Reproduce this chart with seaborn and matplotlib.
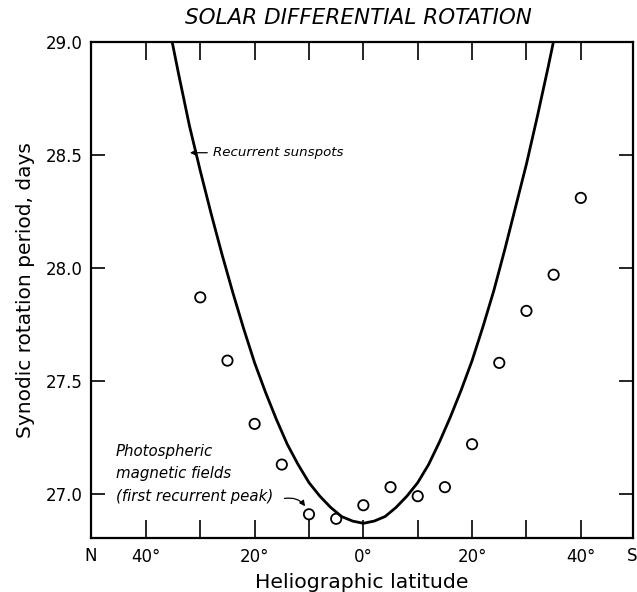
import matplotlib
matplotlib.use("Agg")
import matplotlib.pyplot as plt
import seaborn as sns
import pandas as pd

# Recurrent sunspots curve
curve_lat = [-36, -34, -32, -30, -28, -26, -24, -22, -20, -18, -16, -14, -12, -10, -8, -6, -4, -2,
             0, 2, 4, 6, 8, 10, 12, 14, 16, 18, 20, 22, 24, 26, 28, 30, 32, 34, 36]
curve_period = [29.10, 28.86, 28.63, 28.43, 28.24, 28.06, 27.89, 27.73, 27.58, 27.45, 27.33, 27.22,
                27.13, 27.05, 26.99, 26.94, 26.90, 26.88,
                26.87, 26.88, 26.90, 26.94, 26.99, 27.05, 27.13, 27.23, 27.34, 27.46, 27.59, 27.74,
                27.90, 28.08, 28.27, 28.46, 28.67, 28.89, 29.12]

# Photospheric magnetic fields (first recurrent peak)
mag_lat = [-30, -25, -20, -15, -10, -5, 0, 5, 10, 15, 20, 25, 30, 35, 40]
mag_period = [27.87, 27.59, 27.31, 27.13, 26.91, 26.89, 26.95, 27.03, 26.99, 27.03, 27.22, 27.58,
              27.81, 27.97, 28.31]

x_ticks = [-40, -30, -20, -10, 0, 10, 20, 30, 40]
x_tick_labels = ["40°", "", "20°", "", "0°", "", "20°", "", "40°"]
y_ticks = [27.0, 27.5, 28.0, 28.5, 29.0]
y_tick_labels = ["27.0", "27.5", "28.0", "28.5", "29.0"]

sns.set_style("ticks")
plt.rcParams["font.family"] = ["DejaVu Sans"]
plt.rcParams["text.color"] = "black"
plt.rcParams["axes.labelcolor"] = "black"
plt.rcParams["xtick.color"] = "black"
plt.rcParams["ytick.color"] = "black"

fig = plt.figure(figsize=(6.37, 5.92), dpi=100)
ax = fig.add_axes([91 / 637, 1 - 538 / 592, (633 - 91) / 637, (538 - 42) / 592])

curve_df = pd.DataFrame({"lat": curve_lat, "period": curve_period})
mag_df = pd.DataFrame({"lat": mag_lat, "period": mag_period})

sns.lineplot(data=curve_df, x="lat", y="period", ax=ax, color="black", linewidth=2.0,
             sort=True, estimator=None)
sns.scatterplot(data=mag_df, x="lat", y="period", ax=ax, marker="o", s=55,
                facecolor="none", edgecolor="black", linewidth=1.3)

ax.set_xlim(-50.1, 49.6)
ax.set_ylim(26.805, 29.0)

ax.set_xticks(x_ticks)
ax.set_xticklabels(x_tick_labels, fontsize=12)
ax.set_yticks(y_ticks)
ax.set_yticklabels(y_tick_labels, fontsize=12)
ax.tick_params(axis="x", direction="in", length=13, width=1.2, top=True, bottom=True, pad=7,
               colors="black")
ax.tick_params(axis="y", direction="in", length=10, width=1.2, left=True, right=True, pad=6,
               colors="black")

for sp in ax.spines.values():
    sp.set_visible(True)
    sp.set_linewidth(1.6)
    sp.set_color("black")

ax.text(0.0, -0.018, "N", transform=ax.transAxes, ha="center", va="top", fontsize=12)
ax.text(0.998, -0.018, "S", transform=ax.transAxes, ha="center", va="top", fontsize=12)

ax.set_xlabel("Heliographic latitude", fontsize=14.7, labelpad=5)
ax.set_ylabel("Synodic rotation period, days", fontsize=14.5, labelpad=8)
fig.text(0.562, 0.969, "SOLAR DIFFERENTIAL ROTATION", ha="center", va="center",
         fontsize=15.5, style="italic")

ax.annotate("Recurrent sunspots", xy=(-31.9, 28.51), xytext=(-27.6, 28.51),
            fontsize=9.6, style="italic", va="center", ha="left",
            arrowprops=dict(arrowstyle="-|>", color="black", lw=0.9, mutation_scale=8,
                            shrinkA=2, shrinkB=0))

ax.text(-45.5, 27.22, "Photospheric\nmagnetic fields\n(first recurrent peak)", fontsize=10.8,
        style="italic", va="top", ha="left", linespacing=1.6)
ax.annotate("", xy=(-10.3, 26.93), xytext=(-14.5, 26.98),
            arrowprops=dict(arrowstyle="-|>", color="black", lw=0.9, mutation_scale=8,
                            connectionstyle="arc3,rad=-0.35", shrinkA=0, shrinkB=3))

fig.savefig("out.png", dpi=100)
